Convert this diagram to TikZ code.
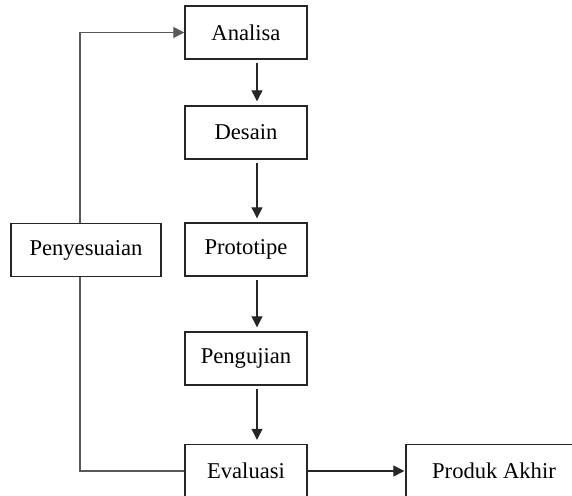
\documentclass[tikz,border=0pt]{standalone}
\usepackage{fontspec}
\setmainfont{Liberation Serif}
\usepackage{tikz}
\usetikzlibrary{arrows.meta}
\tikzset{box/.style={draw=black!85,line width=0.7pt,fill=white,
                     text badly centered,inner sep=0pt,
                     minimum width=61pt,minimum height=26.5pt,
                     font=\fontsize{11.3}{13}\selectfont}}

\begin{document}
\begin{tikzpicture}[x=0.5pt,y=-0.5pt,line width=0.6pt,
    >={Triangle[length=5.5pt,width=5.5pt]}]
    \tikzstyle{flow}=[->,draw=black!85,shorten >=2pt,shorten <=1.5pt]
    \tikzstyle{back}=[draw=black!65]
    \clip (0,0) rectangle (572,496);

    % main column
    \foreach \name/\txt/\y in {analisa/Analisa/32.5,desain/Desain/132.5,
        prototipe/Prototipe/249.5,pengujian/Pengujian/358.5,evaluasi/Evaluasi/471}{%
          \node[box] (\name) at (246,\y) {\txt};
        }
    \foreach \a/\b in {analisa/desain,desain/prototipe,
        prototipe/pengujian,pengujian/evaluasi}{%
          \draw[flow] ([xshift=5.5pt]\a.south) -- ([xshift=5.5pt]\b.north);
        }

    \node[box,minimum width=75pt] (penyesuaian) at (86,250) {Penyesuaian};
    \node[box,minimum width=88pt] (produk) at (494,471) {Produk Akhir};
    \draw[->,draw=black!85,shorten >=0.5pt] (evaluasi) -- (produk);

    % feedback loop
    \draw[back] (evaluasi.west) -| ([xshift=-3pt]penyesuaian.south);
    \draw[back,->] ([xshift=-3pt]penyesuaian.north) |- (analisa.west);
\end{tikzpicture}
\end{document}
